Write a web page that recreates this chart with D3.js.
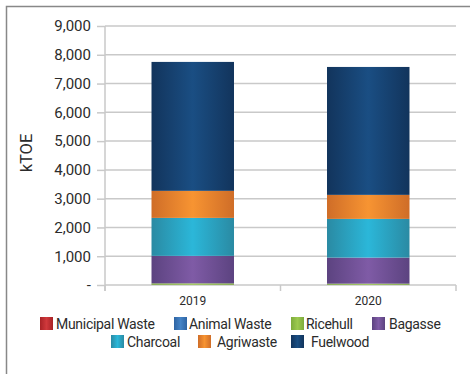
<!DOCTYPE html>
<html><head><meta charset="utf-8">
<script src="https://cdn.jsdelivr.net/npm/d3@7"></script>
<style>body{margin:0;background:#fff}svg{display:block}text{font-family:Roboto,"Noto Sans",sans-serif}</style>
</head><body><svg id="c" width="470" height="374"></svg>
<script>
const categories = ["2019", "2020"];
const seriesNames = ["Municipal Waste", "Animal Waste", "Ricehull", "Bagasse", "Charcoal", "Agriwaste", "Fuelwood"];
const municipalWaste = [3, 3];
const animalWaste = [4, 4];
const ricehull = [50, 40];
const bagasse = [955, 905];
const charcoal = [1320, 1345];
const agriwaste = [940, 835];
const fuelwood = [4480, 4445];
const yTicks = [0, 1000, 2000, 3000, 4000, 5000, 6000, 7000, 8000, 9000];
const colors = {
  "Municipal Waste": ["#a82226", "#d0393c"],
  "Animal Waste": ["#2e64a3", "#4483c6"],
  "Ricehull": ["#7dab3c", "#9cc94f"],
  "Bagasse": ["#5c4380", "#7f5ba6"],
  "Charcoal": ["#2a8aa3", "#2bb7d9"],
  "Agriwaste": ["#cf6d28", "#f79432"],
  "Fuelwood": ["#12345c", "#1a4e83"]
};

const seriesVals = [municipalWaste, animalWaste, ricehull, bagasse, charcoal, agriwaste, fuelwood];
const rows = categories.map((c, i) => {
  const r = {cat: c};
  seriesNames.forEach((s, j) => r[s] = seriesVals[j][i]);
  return r;
});
const stack = d3.stack().keys(seriesNames)(rows);

const svg = d3.select("#c");
const defs = svg.append("defs");
seriesNames.forEach((s, i) => {
  const g = defs.append("linearGradient").attr("id", "g" + i).attr("x1", "0").attr("x2", "1").attr("y1", "0").attr("y2", "0");
  g.append("stop").attr("offset", "0").attr("stop-color", colors[s][0]);
  g.append("stop").attr("offset", "0.5").attr("stop-color", colors[s][1]);
  g.append("stop").attr("offset", "1").attr("stop-color", colors[s][0]);
});

// outer frame
svg.append("rect").attr("x", 6.5).attr("y", 6.5).attr("width", 480).attr("height", 400)
  .attr("fill", "none").attr("stroke", "#888").attr("stroke-width", 1.5);

const x0 = 105, x1 = 456, yTop = 26, yBot = 285;
const x = d3.scaleBand().domain(categories).range([x0, x1]).paddingInner(0.53).paddingOuter(0.265);
const y = d3.scaleLinear().domain([0, 9000]).range([yBot, yTop]);

// gridlines
svg.append("g").selectAll("line").data(yTicks).join("line")
  .attr("x1", x0).attr("x2", x1).attr("y1", d => y(d)).attr("y2", d => y(d))
  .attr("stroke", "#c9c9c9").attr("stroke-width", 1.5);

// y axis
const yAxis = d3.axisLeft(y).tickValues(yTicks).tickSize(8).tickPadding(6)
  .tickFormat(d => d === 0 ? "-" : d3.format(",")(d));
const ga = svg.append("g").attr("transform", `translate(${x0},0)`).call(yAxis);
ga.select(".domain").attr("stroke", "#c9c9c9").attr("stroke-width", 1.5).attr("d", `M0,${yTop}V${yBot + 6}`);
ga.selectAll(".tick line").attr("stroke", "#c9c9c9").attr("stroke-width", 1.5).attr("x1", -8).attr("x2", 0);
ga.selectAll(".tick text").attr("font-size", 15).attr("fill", "#2b2b2b");

// x axis ticks
const xb = svg.append("g");
const bounds = [x0, (x(categories[0]) + x.bandwidth() + x(categories[1])) / 2, x1];
xb.selectAll("line").data(bounds).join("line")
  .attr("x1", d => d).attr("x2", d => d).attr("y1", yBot).attr("y2", yBot + 6)
  .attr("stroke", "#c9c9c9").attr("stroke-width", 1.5);
xb.selectAll("text").data(categories).join("text")
  .attr("x", d => x(d) + x.bandwidth() / 2).attr("y", 305)
  .attr("text-anchor", "middle").attr("font-size", 12).attr("fill", "#2b2b2b").text(d => d);

// bars
svg.append("g").selectAll("g").data(stack).join("g")
  .attr("fill", (d, i) => `url(#g${i})`)
  .selectAll("rect").data(d => d).join("rect")
  .attr("x", d => x(d.data.cat)).attr("width", x.bandwidth())
  .attr("y", d => y(d[1])).attr("height", d => y(d[0]) - y(d[1]));

// y label
svg.append("text").attr("transform", "translate(32,153) rotate(-90)")
  .attr("text-anchor", "middle").attr("font-size", 16.5).attr("fill", "#2b2b2b").text("kTOE");

// legend
const legendPos = [
  [40, 323], [174, 323], [291, 323], [372, 323],
  [111, 341], [198, 341], [291, 341]
];
const textGap = [3, 2, 2, 4, 3, 6, 7];
const lg = svg.append("g").selectAll("g").data(seriesNames).join("g")
  .attr("transform", (d, i) => `translate(${legendPos[i][0]},${legendPos[i][1]})`);
lg.append("rect").attr("x", 0).attr("y", -6).attr("width", 13).attr("height", 13)
  .attr("fill", (d, i) => `url(#g${i})`);
lg.append("text").attr("x", (d, i) => 13 + textGap[i]).attr("y", 5.5).attr("font-size", 14)
  .attr("letter-spacing", -0.3).attr("fill", "#2b2b2b").text(d => d);
</script></body></html>
